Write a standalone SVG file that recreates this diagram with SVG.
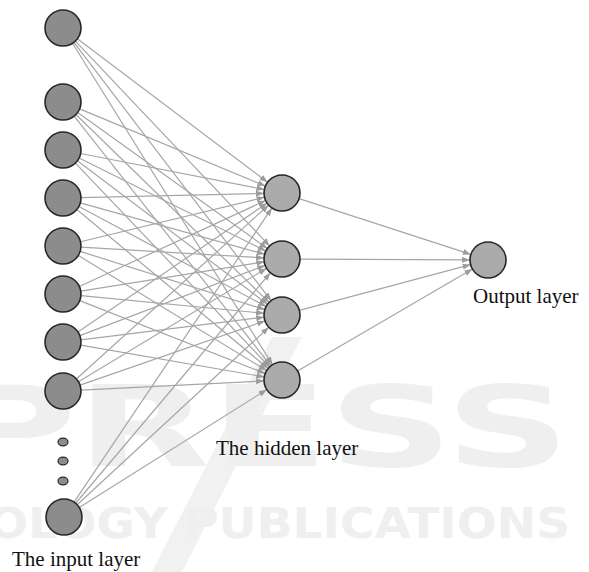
<svg xmlns="http://www.w3.org/2000/svg" width="589" height="572" viewBox="0 0 589 572">
<style>
.wm{fill:#efefef;font-family:"DejaVu Sans",sans-serif;font-weight:bold}
.in{fill:#8c8c8c;stroke:#262626;stroke-width:1.6}
.hid{fill:#ababab;stroke:#262626;stroke-width:1.6}
.dot{fill:#8c8c8c;stroke:#262626;stroke-width:1.2}
.lbl{font-family:"Liberation Serif",serif;font-size:21px;fill:#111}
#connectors line{stroke:#a6a6a6;stroke-width:1.2;marker-end:url(#arr)}
</style>
<defs>
<marker id="arr" markerUnits="userSpaceOnUse" markerWidth="9" markerHeight="7" refX="8" refY="3" orient="auto">
<path d="M0,0 L8,3 L0,6 z" fill="#9c9c9c"/>
</marker>
</defs>
<rect width="589" height="572" fill="#fff"/>
<g id="watermark">
<polygon points="272,337 302,337 182,572 152,572" fill="#f1f1f1"/>
<text class="wm" x="-50" y="466" font-size="112" textLength="620" lengthAdjust="spacingAndGlyphs">PRESS</text>
<text class="wm" x="-12" y="538" font-size="42" textLength="582" lengthAdjust="spacingAndGlyphs">OLOGY PUBLICATIONS</text>
</g>
<g id="connectors">
<line x1="77.38" y1="38.83" x2="267.62" y2="182.17"/>
<line x1="75.38" y1="41.06" x2="269.62" y2="245.94"/>
<line x1="73.92" y1="42.31" x2="271.08" y2="300.69"/>
<line x1="72.51" y1="43.28" x2="272.49" y2="364.72"/>
<line x1="79.62" y1="108.91" x2="265.38" y2="186.09"/>
<line x1="77.63" y1="112.49" x2="267.37" y2="248.51"/>
<line x1="75.90" y1="114.55" x2="269.10" y2="302.45"/>
<line x1="74.14" y1="116.14" x2="270.86" y2="365.86"/>
<line x1="80.66" y1="153.47" x2="264.34" y2="189.53"/>
<line x1="79.12" y1="158.02" x2="265.88" y2="250.98"/>
<line x1="77.38" y1="160.83" x2="267.62" y2="304.17"/>
<line x1="75.41" y1="163.04" x2="269.59" y2="366.96"/>
<line x1="81.00" y1="197.59" x2="264.00" y2="193.41"/>
<line x1="80.34" y1="202.83" x2="264.66" y2="254.17"/>
<line x1="78.88" y1="206.48" x2="266.12" y2="306.52"/>
<line x1="76.84" y1="209.50" x2="268.16" y2="368.50"/>
<line x1="80.50" y1="241.77" x2="264.50" y2="197.23"/>
<line x1="80.97" y1="247.07" x2="264.03" y2="257.93"/>
<line x1="80.17" y1="251.41" x2="264.83" y2="309.59"/>
<line x1="78.36" y1="255.40" x2="266.64" y2="370.60"/>
<line x1="79.34" y1="286.46" x2="265.66" y2="200.54"/>
<line x1="80.77" y1="291.16" x2="264.23" y2="261.84"/>
<line x1="80.92" y1="295.72" x2="264.08" y2="313.28"/>
<line x1="79.75" y1="300.58" x2="265.25" y2="373.42"/>
<line x1="77.88" y1="331.88" x2="267.12" y2="203.12"/>
<line x1="79.83" y1="335.62" x2="265.17" y2="265.38"/>
<line x1="80.86" y1="339.80" x2="264.14" y2="317.20"/>
<line x1="80.73" y1="345.08" x2="264.27" y2="376.92"/>
<line x1="76.35" y1="378.93" x2="268.65" y2="205.07"/>
<line x1="78.42" y1="381.71" x2="266.58" y2="268.29"/>
<line x1="80.01" y1="385.10" x2="264.99" y2="320.90"/>
<line x1="80.98" y1="390.10" x2="264.02" y2="380.90"/>
<line x1="74.05" y1="502.07" x2="271.95" y2="207.93"/>
<line x1="75.62" y1="503.25" x2="270.38" y2="272.75"/>
<line x1="77.20" y1="504.77" x2="268.80" y2="327.23"/>
<line x1="79.24" y1="507.42" x2="266.76" y2="389.58"/>
<line x1="299.12" y1="198.57" x2="470.88" y2="254.43"/>
<line x1="300.00" y1="259.09" x2="470.00" y2="259.91"/>
<line x1="299.39" y1="310.36" x2="470.61" y2="264.64"/>
<line x1="297.55" y1="370.94" x2="472.45" y2="269.06"/>
</g>
<g id="input-layer">
<circle id="in1" class="in" cx="63" cy="28" r="18"/>
<circle id="in2" class="in" cx="63" cy="102" r="18"/>
<circle id="in3" class="in" cx="63" cy="150" r="18"/>
<circle id="in4" class="in" cx="63" cy="198" r="18"/>
<circle id="in5" class="in" cx="63" cy="246" r="18"/>
<circle id="in6" class="in" cx="63" cy="294" r="18"/>
<circle id="in7" class="in" cx="63" cy="342" r="18"/>
<circle id="in8" class="in" cx="63" cy="391" r="18"/>
<g id="ellipsis">
<ellipse class="dot" cx="63" cy="442" rx="5" ry="3.8"/>
<ellipse class="dot" cx="63" cy="461" rx="5" ry="3.8"/>
<ellipse class="dot" cx="63" cy="481" rx="5" ry="3.8"/>
</g>
<circle id="in9" class="in" cx="64" cy="517" r="18"/>
<text class="lbl" x="12" y="566">The input layer</text>
</g>
<g id="hidden-layer">
<circle id="h1" class="hid" cx="282" cy="193" r="18"/>
<circle id="h2" class="hid" cx="282" cy="259" r="18"/>
<circle id="h3" class="hid" cx="282" cy="315" r="18"/>
<circle id="h4" class="hid" cx="282" cy="380" r="18"/>
<text class="lbl" x="216" y="455">The hidden layer</text>
</g>
<g id="output-layer">
<circle id="out" class="hid" cx="488" cy="260" r="18"/>
<text class="lbl" x="473" y="303">Output layer</text>
</g>
</svg>
